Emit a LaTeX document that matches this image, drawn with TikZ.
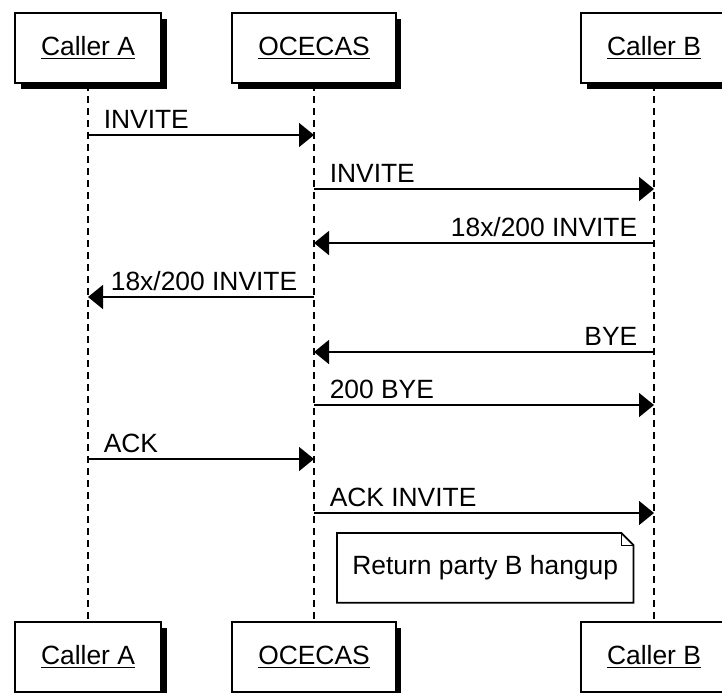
\documentclass[tikz,border=0pt]{standalone}
\usepackage{fontspec}
\setmainfont{Liberation Sans}
\usepackage{tikz}
\usetikzlibrary{calc, positioning, arrows.meta, shadows}

\begin{document}
\begin{tikzpicture}[
    x=0.5pt, y=-0.5pt,
    seqfont/.style={font=\fontsize{13.2}{16}\selectfont},
    actor/.style={draw, fill=white, line width=1pt, seqfont,
      inner xsep=13pt, minimum height=35pt,
      drop shadow={shadow xshift=2.8pt, shadow yshift=-3pt, fill=black, opacity=1}},
    lifeline/.style={line width=0.75pt, dash pattern=on 3.5pt off 2.5pt},
    msg/.style={line width=0.75pt, -{Triangle[length=7.5pt, width=12pt]}},
    lblright/.style={seqfont, inner sep=0pt, anchor=base west, xshift=7.5pt, yshift=3.5pt},
    lblleft/.style={seqfont, inner sep=0pt, anchor=base east, xshift=-8pt, yshift=3.5pt},
    notetext/.style={seqfont, inner xsep=7.5pt, minimum height=34.5pt, anchor=north west},
  ]
    \useasboundingbox (0,0) rectangle (722,692);
    % participants
    \node[actor] (a1) at (88,48) {\underline{Caller A}};
    \node[actor] (o1) at (314,48) {\underline{OCECAS}};
    \node[actor] (b1) at (654,48) {\underline{Caller B}};
    \node[actor] (a2) at (88,657) {\underline{Caller A}};
    \node[actor] (o2) at (314,657) {\underline{OCECAS}};
    \node[actor] (b2) at (654,657) {\underline{Caller B}};
    % lifelines
    \draw[lifeline] (a1) -- (a2);
    \draw[lifeline] (o1) -- (o2);
    \draw[lifeline] (b1) -- (b2);
    % messages
    \draw[msg] (a1 |- 0,135) -- (o1 |- 0,135) node[lblright, pos=0] (m1) {INVITE};
    \draw[msg] (o1 |- 0,189) -- (b1 |- 0,189) node[lblright, pos=0] (m2) {INVITE};
    \draw[msg] (b1 |- 0,243) -- (o1 |- 0,243) node[lblleft, pos=0] (m3) {18x/200 INVITE};
    \draw[msg] (o1 |- 0,297) -- (a1 |- 0,297) node[lblleft, pos=0] (m4) {18x/200 INVITE};
    \draw[msg] (b1 |- 0,352) -- (o1 |- 0,352) node[lblleft, pos=0] (m5) {BYE};
    \draw[msg] (o1 |- 0,405) -- (b1 |- 0,405) node[lblright, pos=0] (m6) {200 BYE};
    \draw[msg] (a1 |- 0,459) -- (o1 |- 0,459) node[lblright, pos=0] (m7) {ACK};
    \draw[msg] (o1 |- 0,513) -- (b1 |- 0,513) node[lblright, pos=0] (m8) {ACK INVITE};
    % note
    \node[notetext] (note) at (337,533) {Return party B hangup};
    \draw[line width=0.9pt] (note.south west) -- (note.north west)
      -- ($(note.north east)+(-12,0)$) -- ($(note.north east)+(0,12)$)
      -- (note.south east) -- cycle;
    \draw[line width=0.4pt] ($(note.north east)+(-12,0)$) |- ($(note.north east)+(0,12)$);
  \end{tikzpicture}
\end{document}
